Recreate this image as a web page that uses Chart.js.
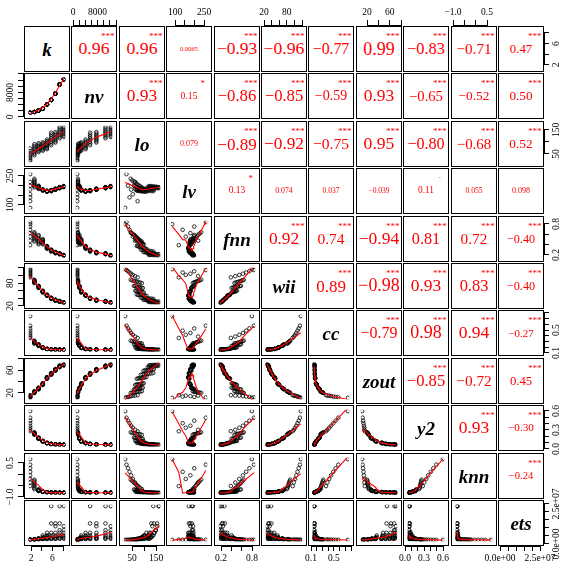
<!DOCTYPE html>
<html>
<head>
<meta charset="utf-8">
<script src="https://cdn.jsdelivr.net/npm/chart.js@4.4.0/dist/chart.umd.min.js"></script>
<style>
    body { margin: 0; background: #fff; }
    #fig { position: relative; width: 562px; height: 564px; overflow: hidden; background: #fff; }
    .box { position: absolute; width: 46px; height: 46px; box-sizing: border-box; border: 1px solid #000; }
    .plot { position: absolute; }
    .cor { display: flex; align-items: center; justify-content: center; color: #f00; font-family: 'Liberation Serif', serif; line-height: 1; }
    .stars { position: absolute; color: #f00; font-family: 'Liberation Serif', serif; font-size: 9px; line-height: 1; transform: translate(-50%, -50%); white-space: nowrap; }
    .name { display: flex; align-items: center; justify-content: center; color: #000; font: italic bold 19px 'Liberation Serif', serif; line-height: 1; }
    canvas.axis { position: absolute; left: 0; top: 0; transform-origin: 0 0; }
</style>
</head>
<body>
<div id="fig"></div>
<script>
// observations, 8 per value of k
const k = [
    1, 1, 1, 1, 1, 1, 1, 1,
    2, 2, 2, 2, 2, 2, 2, 2,
    3, 3, 3, 3, 3, 3, 3, 3,
    4, 4, 4, 4, 4, 4, 4, 4,
    5, 5, 5, 5, 5, 5, 5, 5,
    6, 6, 6, 6, 6, 6, 6, 6,
    7, 7, 7, 7, 7, 7, 7, 7,
    8, 8, 8, 8, 8, 8, 8, 8,
    9, 9, 9, 9, 9, 9, 9, 9
];
const nv = [
    20, 35, 10, 50, 25, 40, 15, 30,
    330, 345, 320, 350, 335, 340, 325, 345,
    920, 940, 910, 950, 925, 935, 915, 945,
    1700, 1730, 1690, 1740, 1710, 1720, 1705, 1735,
    3520, 3560, 3500, 3570, 3530, 3550, 3510, 3540,
    5380, 5420, 5370, 5430, 5390, 5410, 5375, 5415,
    7980, 8020, 7970, 8030, 7990, 8010, 7975, 8015,
    11780, 11820, 11770, 11830, 11790, 11810, 11775, 11815,
    13980, 14020, 13970, 14030, 13990, 14010, 13975, 14015
];
const lo = [
    3, 10, 18, 26, 34, 43, 55, 68,
    32, 40, 48, 56, 64, 72, 81, 90,
    49, 55, 62, 68, 75, 81, 88, 95,
    56, 62, 68, 75, 81, 88, 94, 100,
    64, 71, 78, 85, 92, 99, 106, 114,
    85, 94, 103, 112, 121, 130, 140, 150,
    99, 106, 114, 121, 129, 137, 145, 153,
    121, 129, 137, 145, 153, 161, 170, 179,
    128, 135, 142, 150, 157, 164, 171, 179
];
const lv = [
    62, 280, 205, 130, 180, 150, 230, 105,
    250, 240, 232, 225, 218, 210, 203, 195,
    205, 202, 199, 196, 193, 190, 188, 185,
    182, 180, 179, 178, 177, 176, 175, 174,
    173, 172, 171, 170, 169, 168, 167, 166,
    177, 176, 175, 174, 173, 172, 171, 170,
    186, 185, 184, 183, 182, 181, 180, 179,
    196, 195, 194, 193, 192, 191, 190, 189,
    203, 202, 201, 200, 199, 198, 197, 196
];
const fnn = [
    0.88, 0.93, 0.82, 0.74, 0.66, 0.57, 0.47, 0.36,
    0.68, 0.65, 0.62, 0.59, 0.55, 0.52, 0.48, 0.45,
    0.61, 0.58, 0.54, 0.51, 0.47, 0.44, 0.41, 0.38,
    0.51, 0.49, 0.47, 0.45, 0.44, 0.42, 0.40, 0.38,
    0.34, 0.33, 0.32, 0.31, 0.30, 0.29, 0.28, 0.27,
    0.25, 0.24, 0.235, 0.23, 0.225, 0.22, 0.21, 0.20,
    0.19, 0.185, 0.18, 0.178, 0.175, 0.17, 0.165, 0.16,
    0.155, 0.152, 0.15, 0.147, 0.145, 0.142, 0.14, 0.137,
    0.115, 0.112, 0.11, 0.107, 0.105, 0.102, 0.098, 0.095
];
const wii = [
    127, 124, 120, 116, 112, 108, 104, 100,
    92, 90, 89, 87, 86, 84, 83, 81,
    72, 71, 70, 69, 68, 67, 66, 65,
    56, 55, 54, 53, 53, 52, 51, 50,
    43, 42, 42, 41, 41, 40, 40, 39,
    33, 32, 32, 31, 31, 30, 30, 29,
    26, 26, 25, 25, 25, 24, 24, 23,
    22, 22, 21, 21, 21, 20, 20, 20,
    18, 17, 17, 17, 16, 16, 16, 16
];
const cc = [
    0.82, 0.61, 0.55, 0.50, 0.45, 0.41, 0.37, 0.34,
    0.28, 0.27, 0.26, 0.25, 0.24, 0.23, 0.22, 0.22,
    0.20, 0.195, 0.19, 0.185, 0.18, 0.175, 0.17, 0.165,
    0.135, 0.132, 0.13, 0.127, 0.125, 0.122, 0.12, 0.118,
    0.10, 0.099, 0.098, 0.097, 0.096, 0.095, 0.094, 0.093,
    0.09, 0.089, 0.088, 0.088, 0.087, 0.086, 0.086, 0.085,
    0.085, 0.084, 0.084, 0.083, 0.083, 0.082, 0.082, 0.081,
    0.081, 0.081, 0.08, 0.08, 0.08, 0.079, 0.079, 0.079,
    0.079, 0.079, 0.079, 0.078, 0.078, 0.078, 0.078, 0.078
];
const zout = [
    4, 5, 6, 7, 8, 9, 9, 10,
    15, 16, 16, 17, 17, 18, 18, 19,
    23, 24, 24, 25, 25, 26, 26, 27,
    33, 34, 34, 35, 35, 36, 36, 37,
    47, 48, 48, 49, 49, 50, 50, 51,
    56, 57, 57, 58, 58, 59, 59, 60,
    65, 66, 66, 67, 67, 68, 68, 69,
    73, 74, 74, 75, 75, 76, 76, 77,
    77, 78, 78, 79, 79, 79, 80, 80
];
const y2 = [
    0.67, 0.54, 0.48, 0.43, 0.38, 0.34, 0.30, 0.27,
    0.25, 0.24, 0.235, 0.23, 0.22, 0.215, 0.21, 0.20,
    0.145, 0.14, 0.137, 0.134, 0.13, 0.127, 0.124, 0.12,
    0.08, 0.078, 0.076, 0.074, 0.072, 0.07, 0.068, 0.066,
    0.04, 0.039, 0.038, 0.037, 0.036, 0.035, 0.034, 0.033,
    0.02, 0.019, 0.018, 0.017, 0.016, 0.015, 0.014, 0.013,
    0.01, 0.009, 0.009, 0.008, 0.008, 0.007, 0.007, 0.006,
    0.005, 0.005, 0.004, 0.004, 0.003, 0.003, 0.002, 0.002,
    0.002, 0.002, 0.001, 0.001, 0.001, 0.0, 0.0, 0.0
];
const knn = [
    0.86, 0.55, 0.35, 0.15, -0.05, -0.25, -0.45, -0.65,
    -0.29, -0.37, -0.45, -0.52, -0.60, -0.67, -0.75, -0.82,
    -0.84, -0.85, -0.87, -0.88, -0.89, -0.90, -0.92, -0.93,
    -0.95, -0.95, -0.96, -0.96, -0.97, -0.97, -0.98, -0.98,
    -0.99, -0.99, -0.99, -1.0, -1.0, -1.0, -1.0, -1.01,
    -1.0, -1.01, -1.01, -1.01, -1.01, -1.02, -1.02, -1.02,
    -1.01, -1.02, -1.02, -1.02, -1.02, -1.02, -1.03, -1.03,
    -1.02, -1.02, -1.02, -1.03, -1.03, -1.03, -1.03, -1.03,
    -1.02, -1.02, -1.03, -1.03, -1.03, -1.03, -1.03, -1.03
];
const ets = [
    1e5, 1.2e5, 1.5e5, 1.8e5, 2e5, 2.2e5, 2.5e5, 3e5,
    2e5, 2.5e5, 3e5, 3.5e5, 4e5, 4.5e5, 5e5, 6e5,
    4e5, 5e5, 6e5, 7e5, 8e5, 9e5, 1e6, 1.4e6,
    5e5, 7e5, 9e5, 1.1e6, 1.4e6, 1.8e6, 2.4e6, 3.6e6,
    6e5, 9e5, 1.2e6, 1.6e6, 2.2e6, 3e6, 3.6e6, 5.7e6,
    7e5, 1e6, 1.5e6, 2.2e6, 3.6e6, 5.7e6, 1.32e7, 2.7e7,
    8e5, 1.1e6, 1.6e6, 2.4e6, 3.6e6, 5.7e6, 1.1e7, 1.32e7,
    9e5, 1.4e6, 2.2e6, 3.6e6, 5.7e6, 7.8e6, 1.32e7, 2.7e7,
    1e6, 1.5e6, 2.4e6, 3.6e6, 5.7e6, 7.8e6, 1.1e7, 2.7e7
];

const varNames = ['k', 'nv', 'lo', 'lv', 'fnn', 'wii', 'cc', 'zout', 'y2', 'knn', 'ets'];
const columns = [k, nv, lo, lv, fnn, wii, cc, zout, y2, knn, ets];

// axis ticks and the labels that are printed
const kTicks = [2, 4, 6, 8];
const kLabels = ['2', '', '6', ''];
const nvTicks = [0, 2000, 4000, 6000, 8000, 10000, 12000, 14000];
const nvLabels = ['0', '', '', '', '8000', '', '', ''];
const loTicks = [50, 100, 150];
const loLabels = ['50', '', '150'];
const lvTicks = [100, 150, 200, 250];
const lvLabels = ['100', '', '', '250'];
const fnnTicks = [0.2, 0.4, 0.6, 0.8];
const fnnLabels = ['0.2', '', '', '0.8'];
const wiiTicks = [20, 40, 60, 80, 100, 120];
const wiiLabels = ['20', '', '', '80', '', ''];
const ccTicks = [0.1, 0.2, 0.3, 0.4, 0.5, 0.6, 0.7, 0.8];
const ccLabels = ['0.1', '', '', '', '0.5', '', '', ''];
const zoutTicks = [20, 40, 60, 80];
const zoutLabels = ['20', '', '60', ''];
const y2Ticks = [0, 0.1, 0.2, 0.3, 0.4, 0.5, 0.6];
const y2Labels = ['0.0', '', '', '0.3', '', '', '0.6'];
const knnTicks = [-1, -0.5, 0, 0.5];
const knnLabels = ['\u22121.0', '', '', '0.5'];
const etsTicks = [0, 5e6, 1e7, 1.5e7, 2e7, 2.5e7];
const etsLabels = ['0.0e+00', '', '', '', '', '2.5e+07'];

const tickSets = [kTicks, nvTicks, loTicks, lvTicks, fnnTicks, wiiTicks, ccTicks, zoutTicks, y2Ticks, knnTicks, etsTicks];
const labelSets = [kLabels, nvLabels, loLabels, lvLabels, fnnLabels, wiiLabels, ccLabels, zoutLabels, y2Labels, knnLabels, etsLabels];

// upper panels: printed correlations and significance marks, row by row
const corText = [
    ['0.96', '0.96', '0.0065', '\u22120.93', '\u22120.96', '\u22120.77', '0.99', '\u22120.83', '\u22120.71', '0.47'],
    ['0.93', '0.15', '\u22120.86', '\u22120.85', '\u22120.59', '0.93', '\u22120.65', '\u22120.52', '0.50'],
    ['0.079', '\u22120.89', '\u22120.92', '\u22120.75', '0.95', '\u22120.80', '\u22120.68', '0.52'],
    ['0.13', '0.074', '0.037', '\u22120.039', '0.11', '0.055', '0.098'],
    ['0.92', '0.74', '\u22120.94', '0.81', '0.72', '\u22120.40'],
    ['0.89', '\u22120.98', '0.93', '0.83', '\u22120.40'],
    ['\u22120.79', '0.98', '0.94', '\u22120.27'],
    ['\u22120.85', '\u22120.72', '0.45'],
    ['0.93', '\u22120.30'],
    ['\u22120.24']
];
const corStars = [
    ['***', '***', '', '***', '***', '***', '***', '***', '***', '***'],
    ['***', '*', '***', '***', '***', '***', '***', '***', '***'],
    ['', '***', '***', '***', '***', '***', '***', '***'],
    ['*', '', '', '', '.', '', ''],
    ['***', '***', '***', '***', '***', '***'],
    ['***', '***', '***', '***', '***'],
    ['***', '***', '***', '***'],
    ['***', '***', '***'],
    ['***', '***'],
    ['***']
];

const CELL = 46, PITCH = 47.4, X0 = 24, Y0 = 26, PAD = 30, AH = 22;
const FONT = "'Liberation Serif', serif";
Chart.defaults.font.family = FONT;

const fig = document.getElementById('fig');
const cellX = j => Math.round(X0 + PITCH * j);
const cellY = i => Math.round(Y0 + PITCH * i);

// data range stretched by 4% like base graphics
const ranges = columns.map(col => {
    const mn = Math.min(...col), mx = Math.max(...col);
    const ext = (mx - mn) * 0.04;
    return [mn - ext, mx + ext];
});

function lowest(x, y, n, xs, nleft, nright, w, userw, rw) {
    const range = x[n - 1] - x[0];
    const h = Math.max(xs - x[nleft], x[nright] - xs);
    const h9 = 0.999 * h, h1 = 0.001 * h;
    let a = 0, j = nleft;
    while (j < n) {
        w[j] = 0;
        const r = Math.abs(x[j] - xs);
        if (r <= h9) {
            w[j] = r <= h1 ? 1 : Math.pow(1 - Math.pow(r / h, 3), 3);
            if (userw) w[j] *= rw[j];
            a += w[j];
        } else if (x[j] > xs) break;
        j++;
    }
    const nrt = j - 1;
    if (a <= 0) return null;
    for (j = nleft; j <= nrt; j++) w[j] /= a;
    if (h > 0) {
        a = 0;
        for (j = nleft; j <= nrt; j++) a += w[j] * x[j];
        let b = xs - a, c = 0;
        for (j = nleft; j <= nrt; j++) c += w[j] * (x[j] - a) * (x[j] - a);
        if (Math.sqrt(c) > 0.001 * range) {
            b /= c;
            for (j = nleft; j <= nrt; j++) w[j] *= (b * (x[j] - a) + 1);
        }
    }
    let ys = 0;
    for (j = nleft; j <= nrt; j++) ys += w[j] * y[j];
    return ys;
}

// lowess smoother (f = 2/3, iter = 3), as used by panel.smooth
function lowess(xIn, yIn) {
    const n = xIn.length, f = 2 / 3, nsteps = 3;
    const ord = xIn.map((_, i) => i).sort((a, b) => xIn[a] - xIn[b]);
    const x = ord.map(i => xIn[i]), y = ord.map(i => yIn[i]);
    const delta = 0.01 * (x[n - 1] - x[0]);
    const ns = Math.max(2, Math.min(n, Math.floor(f * n + 1e-7)));
    const ys = new Array(n).fill(0), rw = new Array(n).fill(1), res = new Array(n).fill(0), w = new Array(n).fill(0);
    for (let iter = 1; iter <= nsteps + 1; iter++) {
        let nleft = 0, nright = ns - 1, last = -1, i = 0;
        for (;;) {
            while (nright < n - 1) {
                const d1 = x[i] - x[nleft], d2 = x[nright + 1] - x[i];
                if (d1 <= d2) break;
                nleft++; nright++;
            }
            const v = lowest(x, y, n, x[i], nleft, nright, w, iter > 1, rw);
            ys[i] = v === null ? y[i] : v;
            if (last < i - 1) {
                const denom = x[i] - x[last];
                for (let j = last + 1; j < i; j++) {
                    const alpha = (x[j] - x[last]) / denom;
                    ys[j] = alpha * ys[i] + (1 - alpha) * ys[last];
                }
            }
            last = i;
            const cut = x[last] + delta;
            for (i = last + 1; i < n; i++) {
                if (x[i] > cut) break;
                if (x[i] === x[last]) { ys[i] = ys[last]; last = i; }
            }
            i = Math.max(last + 1, i - 1);
            if (last >= n - 1) break;
        }
        let sc = 0;
        for (let j = 0; j < n; j++) { res[j] = y[j] - ys[j]; sc += Math.abs(res[j]); }
        sc /= n;
        if (iter > nsteps) break;
        const ar = res.map(Math.abs).sort((a, b) => a - b);
        const m1 = Math.floor(n / 2);
        const cmad = n % 2 === 0 ? 3 * (ar[m1] + ar[n - m1 - 1]) : 6 * ar[m1];
        if (cmad < 1e-7 * sc) break;
        const c9 = 0.999 * cmad, c1 = 0.001 * cmad;
        for (let j = 0; j < n; j++) {
            const r = Math.abs(res[j]);
            rw[j] = r <= c1 ? 1 : (r <= c9 ? Math.pow(1 - Math.pow(r / cmad, 2), 2) : 0);
        }
    }
    return x.map((v, i) => ({ x: v, y: ys[i] }));
}

function addBox(i, j) {
    const d = document.createElement('div');
    d.className = 'box';
    d.style.left = cellX(j) + 'px';
    d.style.top = cellY(i) + 'px';
    fig.appendChild(d);
    return d;
}

function scatterPanel(i, j) {
    const cv = document.createElement('canvas');
    cv.className = 'plot';
    cv.width = CELL; cv.height = CELL;
    cv.style.left = cellX(j) + 'px';
    cv.style.top = cellY(i) + 'px';
    fig.appendChild(cv);
    const xs = columns[j], ys = columns[i];
    const pts = xs.map((v, n) => ({ x: v, y: ys[n] }));
    new Chart(cv, {
        type: 'scatter',
        data: {
            datasets: [{
                data: lowess(xs, ys),
                showLine: true,
                pointRadius: 0,
                borderColor: '#ff0000',
                borderWidth: 1.1,
                fill: false
            }, {
                data: pts,
                pointStyle: 'circle',
                pointRadius: 1.8,
                borderWidth: 0.8,
                borderColor: '#000',
                backgroundColor: 'rgba(0,0,0,0)'
            }]
        },
        options: {
            responsive: false,
            animation: false,
            devicePixelRatio: 1,
            events: [],
            layout: { padding: 0 },
            plugins: { legend: { display: false }, tooltip: { enabled: false } },
            scales: {
                x: { type: 'linear', display: false, min: ranges[j][0], max: ranges[j][1] },
                y: { type: 'linear', display: false, min: ranges[i][0], max: ranges[i][1] }
            }
        }
    });
    addBox(i, j);
}

function corPanel(i, j) {
    const txt = corText[i][j - i - 1];
    const sig = corStars[i][j - i - 1];
    const d = addBox(i, j);
    d.classList.add('cor');
    const r = Math.abs(parseFloat(txt.replace('\u2212', '-')));
    const len = txt.replace('\u2212', '').length;
    d.style.fontSize = ((8.2 + 9.9 * r) * Math.pow(4 / len, 0.6)).toFixed(1) + 'px';
    d.textContent = txt;
    if (sig) {
        const s = document.createElement('span');
        s.className = 'stars';
        s.textContent = sig;
        s.style.left = (0.8 * CELL - 1) + 'px';
        s.style.top = (sig === '.' ? 6 : 9) + 'px';
        d.appendChild(s);
    }
}

function namePanel(i) {
    const d = addBox(i, i);
    d.classList.add('name');
    d.textContent = varNames[i];
}

function makeAxis(vi, side) {
    const ticks = tickSets[vi], labels = labelSets[vi];
    const mn = ranges[vi][0], mx = ranges[vi][1];
    const first = ticks[0], last = ticks[ticks.length - 1];
    const frac = v => (v - mn) / (mx - mn) * CELL;
    const span = Math.round(frac(last) - frac(first));
    const W = span + 2 * PAD, H = AH + 1;
    const cv = document.createElement('canvas');
    cv.className = 'axis';
    cv.width = W; cv.height = H;
    let tx, ty, rot = 0;
    if (side === 'top') { tx = Math.round(cellX(vi) + frac(first)) - PAD; ty = cellY(0) - 1 - AH; }
    if (side === 'bottom') { tx = Math.round(cellX(vi) + frac(first)) - PAD; ty = cellY(10) + CELL - 1; }
    if (side === 'left') { rot = -90; tx = cellX(0) - 1 - AH; ty = Math.round(cellY(vi) + CELL - frac(first)) + PAD; }
    if (side === 'right') { rot = -90; tx = cellX(10) + CELL - 1; ty = Math.round(cellY(vi) + CELL - frac(first)) + PAD; }
    cv.style.transform = `translate(${tx}px, ${ty}px) rotate(${rot}deg)`;
    fig.appendChild(cv);
    new Chart(cv, {
        type: 'scatter',
        data: { datasets: [] },
        options: {
            responsive: false,
            animation: false,
            devicePixelRatio: 1,
            events: [],
            layout: { padding: { left: PAD, right: PAD, top: 0, bottom: 0 } },
            plugins: { legend: { display: false }, tooltip: { enabled: false } },
            scales: {
                x: {
                    type: 'linear',
                    position: (side === 'top' || side === 'left') ? 'top' : 'bottom',
                    min: first,
                    max: last,
                    afterBuildTicks: s => { s.ticks = ticks.map(v => ({ value: v })); },
                    afterFit: s => { s.height = AH; },
                    ticks: {
                        autoSkip: false,
                        maxRotation: 0,
                        minRotation: 0,
                        padding: 2,
                        color: '#000',
                        font: { family: FONT, size: 9.5 },
                        callback: (v, idx) => labels[idx]
                    },
                    grid: { drawOnChartArea: false, drawTicks: true, tickLength: 5, color: '#000', lineWidth: 1 },
                    border: { display: true, color: '#000', width: 1 }
                },
                y: { display: false }
            }
        }
    });
}

for (let i = 0; i < 11; i++) {
    for (let j = 0; j < 11; j++) {
        if (i === j) namePanel(i);
        else if (i > j) scatterPanel(i, j);
        else corPanel(i, j);
    }
}
for (let v = 0; v < 11; v++) {
    if (v % 2 === 1) { makeAxis(v, 'top'); makeAxis(v, 'left'); }
    else { makeAxis(v, 'bottom'); makeAxis(v, 'right'); }
}
</script>
</body>
</html>
